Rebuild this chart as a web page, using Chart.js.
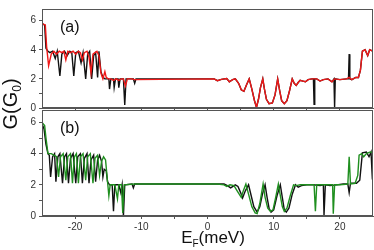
<!DOCTYPE html>
<html>
<head>
<meta charset="utf-8">
<script src="https://cdn.jsdelivr.net/npm/chart.js@4"></script>
<style>
html,body{margin:0;padding:0;background:#fff;}
#wrap{position:relative;width:374px;height:250px;}
canvas{position:absolute;left:0;top:0;}
</style>
</head>
<body>
<div id="wrap">
<canvas id="chartTop" width="374" height="250"></canvas>
<canvas id="chartBottom" width="374" height="250"></canvas>
</div>
<script>
// E_F (meV) and G (G0), panel (a)
var topBlackE = [-25,-24.6,-24.4,-24.1,-23.8,-23.4,-23.0,-22.7,-22.3,-22.0,-21.6,-21.2,-20.8,-20.5,-20.2,-19.9,-19.5,-19.1,-18.8,-18.4,-18.1,-17.8,-17.5,-17.2,-16.9,-16.6,-16.4,-16.1,-15.8,-15.5,-14.9,-14.8,-14.6,-14.2,-14.1,-13.9,-13.5,-13.4,-13.2,-12.7,-12.5,-12.3,-11.2,-11.0,-10.8,1.0,1.5,2.1,2.9,3.3,3.8,4.2,4.7,5.1,5.5,5.9,6.3,6.7,7.1,7.4,7.7,8.0,8.35,8.6,8.9,9.3,9.8,10.2,10.6,10.9,11.2,11.6,12.0,12.4,12.8,13.1,13.4,13.7,14.0,14.4,14.8,15.2,15.8,16.0,16.1,16.2,16.5,17.0,17.5,18.2,18.8,19.1,19.2,19.3,20.0,21.0,21.3,21.4,21.5,21.8,22.4,22.8,23.1,23.4,23.8,24.2,24.5,25];
var topBlackG = [5.8,5.7,4.1,3.9,3.8,3.9,3.4,3.9,2.2,3.7,3.9,3.6,3.9,3.8,2.2,3.8,3.9,3.1,3.8,2.0,3.7,3.9,2.0,3.6,3.8,2.1,3.9,2.5,2.1,2.0,2.0,1.3,2.0,2.0,1.4,2.0,2.0,1.4,2.0,2.0,0.2,2.0,2.0,1.7,2.0,2.0,1.88,1.97,2.02,1.8,1.95,2.0,1.7,1.25,1.15,1.6,2.0,1.3,0.5,0.05,0.6,1.4,2.0,1.3,0.6,0.3,0.35,0.9,2.0,1.2,0.5,0.3,0.5,1.2,2.0,1.7,1.55,1.75,1.9,1.85,1.8,1.95,2.0,2.0,0.25,2.0,2.0,1.85,1.95,2.0,1.8,2.0,0.05,2.0,1.95,2.0,2.0,3.7,2.0,1.95,2.1,2.1,2.6,3.9,4.0,3.6,4.0,3.9];
var topRedE = [-25,-24.5,-24.3,-24.0,-23.6,-23.2,-22.8,-22.4,-22.0,-21.7,-21.4,-21.1,-20.7,-20.3,-19.9,-19.5,-19.2,-18.9,-18.6,-18.2,-17.9,-17.6,-17.3,-17.0,-16.7,-16.4,-16.1,-15.8,-15.5,-15.3,-15.0,-14.6,-14.2,-13.8,-13.4,-13.0,-12.7,-12.4,-12.1,-11.5,-11.0,1.0,1.5,2.1,2.9,3.3,3.8,4.2,4.7,5.1,5.5,5.9,6.3,6.7,7.1,7.4,7.7,8.0,8.35,8.6,8.9,9.3,9.8,10.2,10.6,10.9,11.2,11.6,12.0,12.4,12.8,13.1,13.4,13.7,14.0,14.4,14.8,15.2,15.8,16.5,17.0,17.5,18.2,18.8,19.2,20.0,21.0,21.4,21.8,22.4,22.8,23.1,23.4,23.8,24.2,24.5,25];
var topRedG = [5.8,5.7,4.2,2.9,3.7,3.9,3.7,3.9,3.8,3.9,3.3,3.9,3.8,3.9,3.7,3.9,3.8,3.3,3.8,3.9,3.5,2.4,3.7,3.8,3.9,3.6,2.4,2.0,2.5,2.1,2.0,2.0,1.9,2.0,1.9,2.0,2.0,1.5,2.0,2.0,1.95,2.0,1.88,1.97,2.02,1.8,1.95,2.0,1.7,1.25,1.15,1.6,2.0,1.3,0.5,0.05,0.6,1.4,2.0,1.3,0.6,0.3,0.35,0.9,2.0,1.2,0.5,0.3,0.5,1.2,2.0,1.7,1.55,1.75,1.9,1.85,1.8,1.95,2.0,2.0,1.85,1.95,2.0,1.8,2.0,1.95,2.0,2.1,1.95,2.1,2.1,2.6,3.9,4.0,3.6,4.0,3.9];

// panel (b)
var botBlackE = [-25,-24.7,-24.4,-24.1,-23.9,-23.7,-23.4,-23.1,-22.9,-22.6,-22.3,-21.9,-21.6,-21.3,-21.0,-20.7,-20.3,-19.9,-19.6,-19.2,-18.9,-18.6,-18.2,-17.9,-17.6,-17.2,-16.9,-16.6,-16.3,-16.0,-15.8,-15.6,-15.3,-15.1,-14.8,-14.4,-14.2,-14.0,-13.4,-13.1,-12.9,-12.7,-12.5,-11.4,-11.2,-11.0,1.5,2.5,3.0,3.5,4.2,4.6,5.0,5.3,5.7,6.2,6.6,7.0,7.5,7.9,8.3,8.7,9.0,9.3,9.6,10.0,10.5,11.0,11.3,11.6,11.9,12.3,12.8,13.3,13.7,14.2,15.0,16.0,17.0,17.5,17.6,17.8,18.5,19.5,20.5,21.2,21.4,21.6,22.5,23.0,23.4,24.0,24.4,24.7,24.9,25];
var botBlackG = [5.9,5.6,4.6,4.0,3.9,2.5,3.8,4.0,2.2,3.8,4.0,2.1,3.8,4.0,2.1,3.7,4.0,2.1,3.8,4.0,2.1,3.7,4.0,2.1,3.6,3.9,2.2,3.6,3.9,3.5,2.5,3.0,2.9,2.2,2.0,2.0,0.3,2.0,2.0,1.5,2.0,0.0,2.0,2.05,1.8,2.05,2.05,2.05,1.95,1.8,2.0,1.9,1.5,1.15,1.6,2.0,1.3,0.6,0.25,0.6,1.4,2.0,1.2,0.5,0.25,0.4,1.3,2.0,1.2,0.4,0.25,0.5,1.4,2.0,1.85,1.95,2.0,2.0,1.95,2.0,0.05,2.0,1.95,2.0,2.05,2.05,1.5,2.1,2.1,2.3,4.05,4.1,3.8,4.1,2.4,2.2];
var botGreenE = [-25,-24.6,-24.4,-24.1,-23.6,-23.2,-22.8,-22.5,-22.2,-21.8,-21.4,-21.1,-20.7,-20.4,-20.1,-19.8,-19.5,-19.2,-18.8,-18.4,-18.1,-17.7,-17.3,-17.0,-16.6,-16.3,-16.0,-15.7,-15.4,-15.1,-14.9,-14.7,-14.0,-13.6,-13.4,-13.0,-12.8,-12.6,-11.0,1.5,2.5,2.9,3.4,4.0,4.5,5.1,5.4,5.8,6.2,6.7,7.2,7.5,7.9,8.4,8.7,9.1,9.5,9.9,10.3,10.7,11.0,11.3,11.6,12.0,12.5,13.0,13.4,14.0,15.0,16.1,16.3,16.5,17.5,18.5,18.9,19.0,19.2,20.0,21.2,21.4,21.6,22.3,22.7,22.9,23.3,23.6,24.0,24.5,25];
var botGreenG = [6.0,5.8,5.0,4.0,4.0,3.9,3.8,2.5,3.8,4.0,2.3,3.8,4.0,2.1,3.8,4.0,2.1,3.8,4.0,2.3,3.8,4.0,2.1,3.7,3.9,2.6,3.5,3.8,3.6,2.2,1.3,2.0,2.0,1.1,2.0,2.0,0.2,2.0,2.05,2.05,2.0,1.9,2.0,1.95,1.6,1.2,1.6,2.05,1.4,0.6,0.2,0.15,0.8,2.05,1.2,0.5,0.3,0.4,1.2,2.05,1.3,0.6,0.3,0.5,1.3,2.0,1.95,2.0,2.0,2.0,0.3,2.0,2.0,2.0,2.0,0.15,2.0,2.0,2.05,3.8,2.05,2.1,2.6,3.9,4.0,3.8,4.0,4.1,4.1];

var xTickValues = [-20,-15,-10,-5,0,5,10,15,20];
var yTickValues = [0,1,2,3,4,5,6];

function pts(xs, ys) {
  return xs.map(function(x, i) { return {x: x, y: ys[i]}; });
}

var framePlugin = {
  id: 'frame',
  afterDraw: function(chart, args, opts) {
    var a = chart.chartArea, ctx = chart.ctx;
    ctx.save();
    ctx.strokeStyle = '#555';
    ctx.lineWidth = 1;
    ctx.strokeRect(Math.round(a.left) + 0.5, Math.round(a.top) + 0.5, Math.round(a.right - a.left) - 1, Math.round(a.bottom - a.top) - 1);
    ctx.fillStyle = '#111';
    ctx.font = '16px "Liberation Sans", Arial, sans-serif';
    ctx.textBaseline = 'alphabetic';
    ctx.fillText(opts.panel, 60, a.top + 23);
    if (opts.titles) {
      // E_F(meV)
      var big = '17px "Liberation Sans", Arial, sans-serif';
      var small = '10px "Liberation Sans", Arial, sans-serif';
      ctx.font = big;
      var wE = ctx.measureText('E').width, wR = ctx.measureText('(meV)').width;
      ctx.font = small;
      var wF = ctx.measureText('F').width;
      var x0 = 213 - (wE + wF + wR) / 2, base = 243;
      ctx.font = big; ctx.fillText('E', x0, base);
      ctx.font = small; ctx.fillText('F', x0 + wE, base + 4);
      ctx.font = big; ctx.fillText('(meV)', x0 + wE + wF, base);
      // G(G0)
      var bigY = '20px "Liberation Sans", Arial, sans-serif';
      var smallY = '12px "Liberation Sans", Arial, sans-serif';
      ctx.font = bigY;
      var w1 = ctx.measureText('G(G').width, w3 = ctx.measureText(')').width;
      ctx.font = smallY;
      var w2 = ctx.measureText('0').width;
      ctx.translate(17, 104);
      ctx.rotate(-Math.PI / 2);
      var s = -(w1 + w2 + w3) / 2;
      ctx.font = bigY; ctx.fillText('G(G', s, 0);
      ctx.font = smallY; ctx.fillText('0', s + w1, 4);
      ctx.font = bigY; ctx.fillText(')', s + w1 + w2, 0);
    }
    ctx.restore();
  }
};

function makePanel(id, datasets, showXLabels, padding, panel, titles) {
  var tickFont = {family: '"Liberation Sans", Arial, sans-serif', size: 10};
  return new Chart(document.getElementById(id).getContext('2d'), {
    type: 'line',
    data: {datasets: datasets},
    options: {
      responsive: false,
      animation: false,
      layout: {padding: padding},
      elements: {point: {radius: 0}, line: {tension: 0, borderWidth: 1.4}},
      plugins: {
        legend: {display: false},
        tooltip: {enabled: false},
        frame: {panel: panel, titles: titles}
      },
      scales: {
        x: {
          type: 'linear', min: -25, max: 25,
          afterBuildTicks: function(s) { s.ticks = xTickValues.map(function(v) { return {value: v}; }); },
          afterFit: function(s) { s.height = showXLabels ? 16 : 3; },
          grid: {drawOnChartArea: false, tickLength: 3, color: '#555'},
          border: {color: '#555'},
          ticks: {display: showXLabels, padding: 2, color: '#333', font: tickFont,
            callback: function(v) { return v % 10 === 0 ? v : ''; }}
        },
        y: {
          min: 0, max: 6.8,
          afterBuildTicks: function(s) { s.ticks = yTickValues.map(function(v) { return {value: v}; }); },
          afterFit: function(s) { s.width = 42; },
          grid: {drawOnChartArea: false, tickLength: 3, color: '#555'},
          border: {color: '#555'},
          ticks: {padding: 3, color: '#333', font: tickFont,
            callback: function(v) { return v % 2 === 0 ? v : ''; }}
        }
      }
    },
    plugins: [framePlugin]
  });
}

makePanel('chartTop', [
  {label: 'red', data: pts(topRedE, topRedG), borderColor: '#f01818', order: 1},
  {label: 'black', data: pts(topBlackE, topBlackG), borderColor: '#111111', order: 2}
], false, {top: 1, right: 1, bottom: 139, left: 0}, '(a)', false);

makePanel('chartBottom', [
  {label: 'green', data: pts(botGreenE, botGreenG), borderColor: '#1f8f1f', order: 1},
  {label: 'black', data: pts(botBlackE, botBlackG), borderColor: '#111111', order: 2}
], true, {top: 110, right: 1, bottom: 18, left: 0}, '(b)', true);
</script>
</body>
</html>
